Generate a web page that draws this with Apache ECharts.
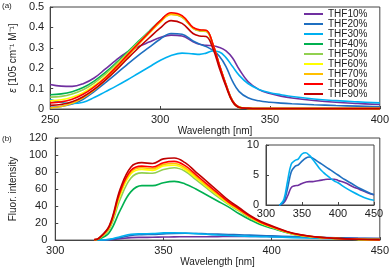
<!DOCTYPE html>
<html><head><meta charset="utf-8">
<script src="https://cdn.jsdelivr.net/npm/echarts@6/dist/echarts.min.js"></script>
<style>html,body{margin:0;padding:0;background:#fff}#c{width:392px;height:268px}</style>
</head><body><div id="c"></div>
<script>
// ---- Data ----
const SERIES_NAMES = ['THF10%','THF20%','THF30%','THF40%','THF50%','THF60%','THF70%','THF80%','THF90%'];
const SERIES_COLORS = ['#7030A0','#1F6FC0','#00B0F0','#00B050','#92D050','#FFFF00','#FFC000','#FF0000','#C00000'];

// (a) absorption
const WL_ABS = [250,255,260,265,270,275,280,285,290,295,300,305,310,315,318,321,324,327,330,333,336,340,345,350,355,360,370,380,390,400];
const ABS_THF10 = [.120,.112,.111,.124,.152,.195,.240,.278,.305,.328,.350,.362,.358,.330,.317,.312,.310,.302,.285,.250,.195,.135,.095,.076,.063,.054,.042,.033,.027,.022];
const ABS_THF20 = [.008,.012,.024,.048,.085,.128,.172,.218,.262,.302,.342,.370,.366,.333,.318,.306,.288,.258,.208,.135,.085,.055,.040,.033,.029,.026,.021,.017,.014,.011];
const ABS_THF30 = [.047,.032,.027,.033,.056,.084,.112,.142,.174,.206,.238,.262,.274,.270,.268,.274,.284,.280,.252,.208,.165,.125,.096,.080,.070,.061,.049,.041,.035,.030];
const ABS_THF40 = [.070,.074,.085,.105,.137,.178,.226,.278,.330,.381,.432,.468,.452,.398,.385,.383,.318,.215,.120,.040,.009,.003,.002,.002,.002,.002,.002,.002,.002,.002];
const ABS_THF50 = [.058,.062,.074,.094,.127,.170,.220,.273,.326,.378,.428,.465,.450,.395,.382,.380,.315,.212,.117,.038,.008,.003,.002,.002,.002,.002,.002,.002,.002,.002];
const ABS_THF60 = [.040,.045,.058,.080,.114,.158,.210,.265,.320,.374,.428,.467,.455,.398,.386,.384,.318,.214,.118,.038,.008,.003,.002,.002,.002,.002,.002,.002,.002,.002];
const ABS_THF70 = [.005,.012,.028,.055,.093,.140,.195,.255,.314,.370,.425,.464,.452,.397,.385,.383,.317,.213,.117,.037,.008,.003,.002,.002,.002,.002,.002,.002,.002,.002];
const ABS_THF80 = [.030,.035,.048,.072,.108,.152,.205,.263,.320,.376,.432,.472,.458,.400,.388,.386,.320,.216,.120,.040,.009,.003,.002,.002,.002,.002,.002,.002,.002,.002];
const ABS_THF90 = [.018,.022,.035,.060,.096,.140,.190,.245,.298,.348,.396,.433,.420,.370,.358,.355,.298,.200,.110,.035,.007,.003,.002,.002,.002,.002,.002,.002,.002,.002];

// (b) fluorescence
const WL_FL = [318,320,325,330,335,340,345,350,355,360,365,370,375,380,385,390,395,400,410,420,430,440,450];
const FL_THF10 = [0,0.05,0.4,1.5,2.9,3.2,3.3,3.6,3.8,3.9,3.9,4.0,4.1,4.2,4.3,4.3,4.3,4.1,3.7,3.1,2.6,2.1,1.7];
const FL_THF20 = [0,0.05,0.6,2.8,5.5,6.4,6.7,7.3,7.8,8.0,7.8,7.4,7.0,6.6,6.2,5.8,5.4,5.0,4.2,3.5,2.8,2.2,1.7];
const FL_THF30 = [0,0.1,1.0,4.0,6.8,7.4,7.7,8.5,8.7,8.3,7.6,6.8,6.0,5.4,4.9,4.4,4.0,3.7,2.9,2.2,1.6,1.1,0.8];
const FL_THF40 = [0.3,1,9,35,57,64,64,67.5,69,66,60,53,46,39,31,24,18,14,7,3.5,2,1,0.5];
const FL_THF50 = [0.4,1.5,13,48,73,79,78.5,83,85,81,71,61,51,42,34,26,20,15,7,3.5,1.8,0.9,0.5];
const FL_THF60 = [0.4,1.6,15,53,78,83,82,87,88,83,73,63,53,43,35,27,20,15.5,7.3,3.6,1.8,0.9,0.5];
const FL_THF70 = [0.4,1.7,15.5,55,80,85,84,89,90,85,75,64,54,44,35.5,27.5,20.5,16,7.5,3.7,1.9,0.9,0.5];
const FL_THF80 = [0.5,1.8,16,57,82,87,86,91,92.5,87.5,77,66,55.5,45,36.5,28,21,16,7.7,3.8,2,1,0.5];
const FL_THF90 = [0.5,2,17,60,86,91,90,95.5,96.5,91,80,69,58,47,38,29,22,17,8,4,2,1,0.6];

const ABS_TICKS_X = {min:250, max:400, step:50};
const ABS_TICKS_Y = {min:0, max:0.5, step:0.1};
const FL_TICKS_X = {min:300, max:450, step:50};
const FL_TICKS_Y = {min:0, max:120, step:20};
const INSET_TICKS_X = {min:300, max:450, step:50};
const INSET_TICKS_Y = {min:0, max:10, step:5};

// ---- Build ----
const ABS = [ABS_THF10,ABS_THF20,ABS_THF30,ABS_THF40,ABS_THF50,ABS_THF60,ABS_THF70,ABS_THF80,ABS_THF90];
const FL = [FL_THF10,FL_THF20,FL_THF30,FL_THF40,FL_THF50,FL_THF60,FL_THF70,FL_THF80,FL_THF90];
const INSET = [FL_THF10,FL_THF20,FL_THF30];

const FONT = 'Liberation Sans';
const TXT = '#222';
const AX = '#444';
const TICK_FS = 11;

function xAxis(gi, t, name, margin){
  return {gridIndex:gi,type:'value',min:t.min,max:t.max,interval:t.step,
    name:name||'',nameLocation:'middle',nameGap:14,
    nameTextStyle:{fontSize:10,color:TXT,fontFamily:FONT},
    axisLine:{show:true,lineStyle:{color:AX,width:1}},
    axisTick:{show:true,inside:true,length:3,lineStyle:{color:AX}},
    axisLabel:{margin:margin,fontSize:TICK_FS,color:TXT,fontFamily:FONT},
    splitLine:{show:false}};
}
function yAxis(gi, t, name, margin, nameGap, rich){
  const a = {gridIndex:gi,type:'value',min:t.min,max:t.max,interval:t.step,
    name:name||'',nameLocation:'middle',nameGap:nameGap,nameRotate:90,
    nameTextStyle:{fontSize:10,color:TXT,fontFamily:FONT},
    axisLine:{show:true,lineStyle:{color:AX,width:1}},
    axisTick:{show:true,inside:true,length:3,lineStyle:{color:AX}},
    axisLabel:{margin:margin,fontSize:TICK_FS,color:TXT,fontFamily:FONT},
    splitLine:{show:false}};
  if (rich) a.nameTextStyle.rich = rich;
  return a;
}

function line(name, i, xi, xs, ys, z){
  return {name:name,type:'line',xAxisIndex:xi,yAxisIndex:xi,showSymbol:false,smooth:0.4,
    color:SERIES_COLORS[i],lineStyle:{width:1.6,color:SERIES_COLORS[i]},z:z||2,
    data:xs.map((x,j)=>[x,ys[j]])};
}

const series = [];
SERIES_NAMES.forEach((n,i)=>series.push(line(n,i,0,WL_ABS,ABS[i])));
SERIES_NAMES.forEach((n,i)=>series.push(line(n,i,1,WL_FL,FL[i])));
INSET.forEach((arr,i)=>series.push(line(SERIES_NAMES[i],i,2,WL_FL,arr,5)));

const chart = echarts.init(document.getElementById('c'), null, {renderer:'canvas'});
chart.setOption({
  animation:false,
  backgroundColor:'#fff',
  textStyle:{fontFamily:FONT},
  grid:[
    {left:41,top:7,width:342,height:102,show:true,borderColor:AX,borderWidth:1,backgroundColor:'#fff'},
    {left:41,top:138,width:342,height:104,show:true,borderColor:AX,borderWidth:1,backgroundColor:'#fff'},
    {left:266,top:145,width:108,height:60,show:true,borderColor:AX,borderWidth:1,backgroundColor:'#fff',z:4}
  ],
  xAxis:[
    xAxis(0,ABS_TICKS_X,'Wavelength [nm]',5),
    xAxis(1,FL_TICKS_X,'Wavelength [nm]',5),
    Object.assign(xAxis(2,INSET_TICKS_X,'',3),{z:5})
  ],
  yAxis:[
    yAxis(0,ABS_TICKS_Y,'{i|ε} [105 cm⁻¹ M⁻¹]',6,25,{i:{fontStyle:'italic',fontSize:10,fontFamily:FONT,color:TXT}}),
    yAxis(1,FL_TICKS_Y,'Fluor. intensity',8,27),
    Object.assign(yAxis(2,INSET_TICKS_Y,'',7,20),{z:5})
  ],
  legend:{
    data:SERIES_NAMES,orient:'vertical',left:304,top:9,
    icon:'rect',itemWidth:19,itemHeight:2,itemGap:0,
    textStyle:{fontSize:10,color:TXT,fontFamily:FONT,lineHeight:10,padding:0},
    padding:0
  },
  graphic:[
    {type:'text',left:2,top:2,style:{text:'(a)',fontSize:8,fill:TXT,fontFamily:FONT}},
    {type:'text',left:2,top:135,style:{text:'(b)',fontSize:8,fill:TXT,fontFamily:FONT}}
  ],
  series:series
});
</script>
</body></html>
